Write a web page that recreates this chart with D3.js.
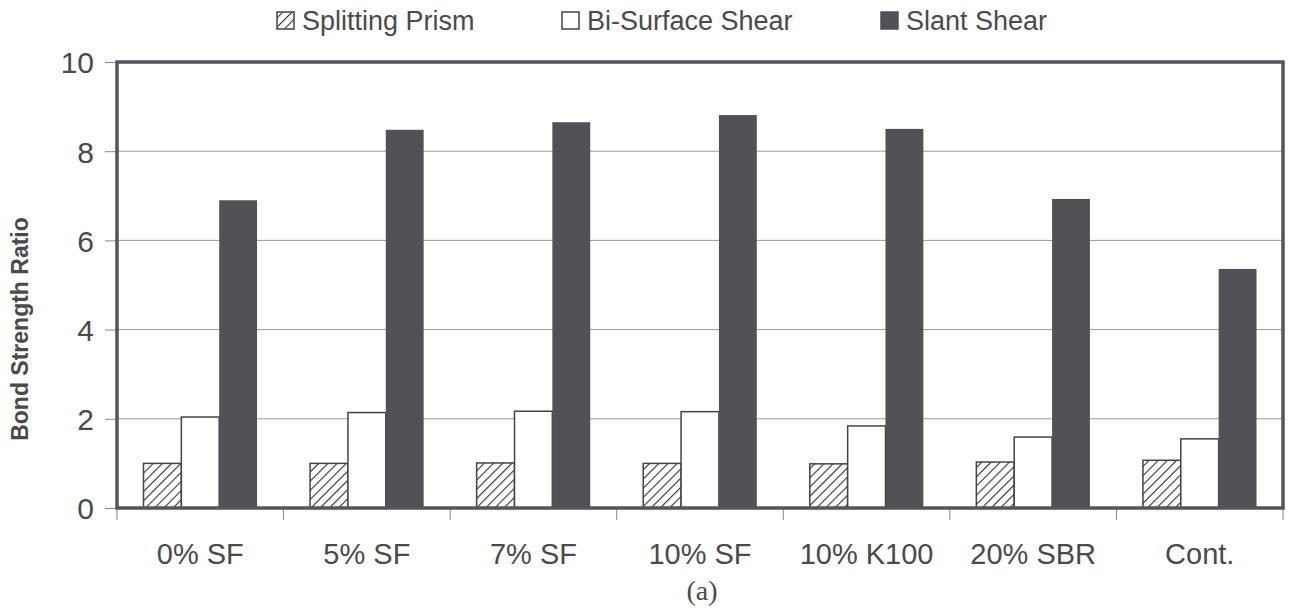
<!DOCTYPE html>
<html>
<head>
<meta charset="utf-8">
<script src="https://cdn.jsdelivr.net/npm/d3@7/dist/d3.min.js"></script>
<style>
html,body{margin:0;padding:0;background:#fff;}
svg{display:block;}
</style>
</head>
<body>
<svg id="chart" width="1296" height="610"></svg>
<script>
const categories = ["0% SF", "5% SF", "7% SF", "10% SF", "10% K100", "20% SBR", "Cont."];
const seriesNames = ["Splitting Prism", "Bi-Surface Shear", "Slant Shear"];
const splittingPrism = [1.00, 1.00, 1.01, 1.00, 0.99, 1.03, 1.07];
const biSurfaceShear = [2.04, 2.14, 2.17, 2.16, 1.84, 1.59, 1.55];
const slantShear = [6.90, 8.48, 8.65, 8.81, 8.50, 6.93, 5.36];
const yTicks = [0, 2, 4, 6, 8, 10];
const yTitle = "Bond Strength Ratio";
const caption = "(a)";

const seriesValues = [splittingPrism, biSurfaceShear, slantShear];
const svg = d3.select("#chart");
const L = 117, R = 1283, T = 62, B = 508;
const textColor = "#4a4a4a";
const dark = "#515156";
const frame = "#555558";

const x = d3.scaleBand().domain(categories).range([L, R]).paddingInner(0).paddingOuter(0);
const xs = d3.scaleBand().domain(seriesNames).range([0, x.bandwidth()]).paddingInner(0).paddingOuter(0.7);
const y = d3.scaleLinear().domain([0, 10]).range([B, T]);

// hatch pattern
const defs = svg.append("defs");
const pat = defs.append("pattern").attr("id", "hatch").attr("patternUnits", "userSpaceOnUse")
  .attr("width", 6.5).attr("height", 6.5).attr("patternTransform", "rotate(45)");
pat.append("rect").attr("width", 6.5).attr("height", 6.5).attr("fill", "#fff");
pat.append("line").attr("x1", 0).attr("y1", 0).attr("x2", 0).attr("y2", 6.5)
  .attr("stroke", "#333").attr("stroke-width", 2.2);

const fills = ["url(#hatch)", "#ffffff", dark];
const strokes = ["#444", "#444", dark];

// gridlines
svg.append("g").selectAll("line").data(yTicks.filter(d => d > 0 && d < 10)).join("line")
  .attr("x1", L).attr("x2", R).attr("y1", d => y(d)).attr("y2", d => y(d))
  .attr("stroke", "#9a9a9a").attr("stroke-width", 1);

// bars
seriesNames.forEach((s, si) => {
  svg.append("g").selectAll("rect").data(categories.map((c, i) => ({c, v: seriesValues[si][i]}))).join("rect")
    .attr("x", d => x(d.c) + xs(s))
    .attr("width", xs.bandwidth())
    .attr("y", d => y(d.v))
    .attr("height", d => y(0) - y(d.v))
    .attr("fill", fills[si])
    .attr("stroke", strokes[si])
    .attr("stroke-width", si === 2 ? 0 : 1.5);
});

// Y axis
const yAxis = d3.axisLeft(y).tickValues(yTicks).tickSize(12).tickPadding(11).tickFormat(d3.format("d"));
const yg = svg.append("g").attr("transform", `translate(${L},0)`).call(yAxis);
yg.select(".domain").remove();
yg.selectAll(".tick line").attr("stroke", "#888").attr("stroke-width", 1);
yg.selectAll(".tick text").attr("fill", textColor).attr("font-family", "Liberation Sans, Arial, sans-serif")
  .attr("font-size", 30).attr("dy", "0.36em");

// X axis
const xAxis = d3.axisBottom(x).tickSize(0).tickPadding(35);
const xg = svg.append("g").attr("transform", `translate(0,${B})`).call(xAxis);
xg.select(".domain").remove();
xg.selectAll(".tick text").attr("fill", textColor).attr("font-family", "Liberation Sans, Arial, sans-serif")
  .attr("font-size", 29);
// boundary ticks
const bounds = categories.map(c => x(c)).concat([R]);
svg.append("g").selectAll("line").data(bounds).join("line")
  .attr("x1", d => d).attr("x2", d => d).attr("y1", B).attr("y2", B + 12)
  .attr("stroke", "#888").attr("stroke-width", 1);

// frame
svg.append("rect").attr("x", L).attr("y", T).attr("width", R - L).attr("height", B - T)
  .attr("fill", "none").attr("stroke", frame).attr("stroke-width", 3.5);

// Y title
svg.append("text").attr("transform", `translate(28,${(T + B) / 2 + 44}) rotate(-90)`)
  .attr("text-anchor", "middle").attr("font-family", "Liberation Sans, Arial, sans-serif")
  .attr("font-weight", "bold").attr("font-size", 23).attr("fill", textColor).text(yTitle);

// legend
const legX = [277, 562, 881];
const legend = svg.append("g");
seriesNames.forEach((s, i) => {
  legend.append("rect").attr("x", legX[i]).attr("y", 12).attr("width", 17).attr("height", 17)
    .attr("fill", fills[i]).attr("stroke", i === 2 ? dark : "#444").attr("stroke-width", 1.5);
  legend.append("text").attr("x", legX[i] + 25).attr("y", 30)
    .attr("font-family", "Liberation Sans, Arial, sans-serif").attr("font-size", 27)
    .attr("fill", textColor).text(s);
});

// caption
svg.append("text").attr("x", (L + R) / 2 + 2).attr("y", 600).attr("text-anchor", "middle")
  .attr("font-family", "Liberation Serif, Times New Roman, serif").attr("font-size", 28)
  .attr("fill", textColor).text(caption);
</script>
</body>
</html>
